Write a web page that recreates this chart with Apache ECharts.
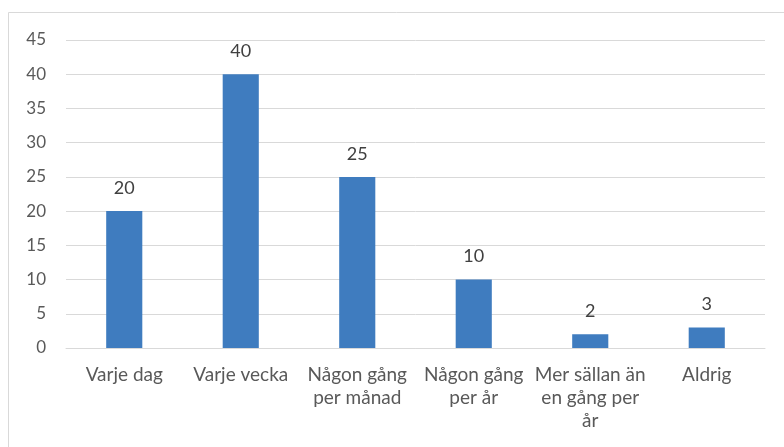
<!DOCTYPE html>
<html>
<head>
<meta charset="utf-8">
<script src="https://cdn.jsdelivr.net/npm/echarts@6/dist/echarts.min.js"></script>
<style>
  html, body { margin: 0; padding: 0; background: #fff; }
  #chart { width: 784px; height: 447px; }
</style>
</head>
<body>
<div id="chart"></div>
<script>
var categories = ['Varje dag', 'Varje vecka', 'Någon gång\nper månad', 'Någon gång\nper år', 'Mer sällan än\nen gång per\når', 'Aldrig'];
var values = [20, 40, 25, 10, 2, 3];

var chart = echarts.init(document.getElementById('chart'));
var font = 'Lato, "Open Sans", sans-serif';

chart.setOption({
  backgroundColor: '#fff',
  animation: false,
  graphic: [{
    type: 'rect',
    shape: { x: 8.5, y: 12.5, width: 800, height: 500 },
    style: { fill: 'none', stroke: '#d9d9d9', lineWidth: 1 },
    silent: true
  }],
  grid: { left: 66, right: 19, top: 40, bottom: 99 },
  xAxis: {
    type: 'category',
    data: categories,
    axisLine: { lineStyle: { color: '#d9d9d9', width: 1 } },
    axisTick: { show: false },
    axisLabel: {
      color: '#595959',
      fontFamily: font,
      fontSize: 19,
      lineHeight: 23,
      margin: 15,
      interval: 0
    }
  },
  yAxis: {
    type: 'value',
    min: 0,
    max: 45,
    interval: 5,
    axisLine: { show: false },
    axisTick: { show: false },
    splitLine: { lineStyle: { color: '#d9d9d9', width: 1 } },
    axisLabel: {
      color: '#595959',
      fontFamily: font,
      fontSize: 17,
      margin: 20
    }
  },
  series: [{
    type: 'bar',
    data: values,
    barWidth: '31%',
    itemStyle: { color: '#3f7cbf' },
    label: {
      show: true,
      position: 'top',
      distance: 14,
      color: '#404040',
      fontFamily: font,
      fontSize: 18
    }
  }]
});
</script>
</body>
</html>
